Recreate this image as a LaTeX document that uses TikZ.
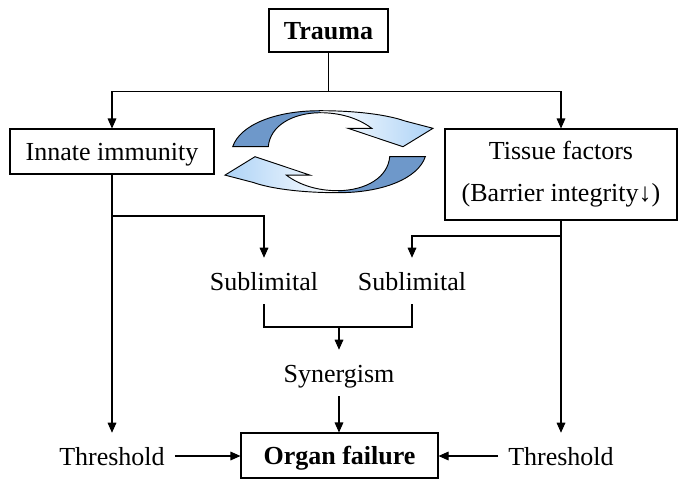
\documentclass[tikz,border=0pt]{standalone}
\usepackage{fontspec}
\setmainfont{Liberation Serif}
\usetikzlibrary{arrows.meta}
\definecolor{cdark}{RGB}{110,152,202}
\definecolor{clight}{RGB}{168,208,246}
\newcommand\cycarrow{(232.7,146.7) .. controls (240,125) and (275,110.7) .. (320,110.7) .. controls (358,110.7) and (388,115) .. (405,121) -- (433,128.3) -- (403,146.7) -- (348,128.3) -- (371.7,128.3) .. controls (358,118) and (340,112.7) .. (320,112.7) .. controls (292,113) and (270,126) .. (268.3,146.7) -- cycle}
\begin{document}
\begin{tikzpicture}[x=0.75pt,y=-0.75pt,
  font=\fontsize{19.5pt}{31.5pt}\selectfont,
  box/.style={draw,line width=0.8pt,inner sep=0pt,align=center},
  onebox/.style={box,text height=13.5pt,text depth=0pt},
  lbl/.style={inner xsep=7.5pt,inner ysep=10.5pt,text height=13.5pt,text depth=0pt,anchor=base},
  arr/.style={line width=0.8pt,-{Triangle[length=7.5pt,width=6.5pt]}},
  ln/.style={line width=0.8pt},
  outl/.style={draw=black,line width=0.7pt}]
\useasboundingbox (0,0) rectangle (685,490);
% boxes
\node[onebox,minimum width=89.25pt,minimum height=32.25pt] (trauma) at (328.5,30.5) {\textbf{Trauma}};
\node[onebox,minimum width=153pt,minimum height=33.75pt] (innate) at (112,151.5) {Innate immunity};
\node[box,minimum width=174pt,minimum height=68.25pt] (tissue) at (561,174.5) {Tissue factors\\(Barrier integrity↓)};
\node[onebox,minimum width=147.75pt,minimum height=33.75pt] (organ) at (339.5,455.5) {\textbf{Organ failure}};
% labels
\node[lbl] (subL) at (264,290) {Sublimital};
\node[lbl] (subR) at (412,290) {Sublimital};
\node[lbl] (syn) at (339,382) {Synergism};
\node[lbl] (thL) at (112,465) {Threshold};
\node[lbl] (thR) at (561,465) {Threshold};
% junctions
\coordinate (split) at (328.5,91.5);
\coordinate (bl) at (112,216);
\coordinate (br) at (561,236);
\coordinate (mj) at (339,327);
% connectors
\draw[ln] (trauma.south) -- (split);
\draw[arr] (split) -| (innate.north);
\draw[arr] (split) -| (tissue.north);
\draw[arr] (innate.south) -- (thL.north);
\draw[arr] (tissue.south) -- (thR.north);
\draw[arr] (bl) -| (subL.north);
\draw[arr] (br) -| (subR.north);
\draw[ln] (subL.south) |- (mj) -| (subR.south);
\draw[arr] (mj) -- (syn.north);
\draw[arr] (syn.south) -- (syn.south |- organ.north);
\draw[arr] (thL.east) -- (thL.east -| organ.west);
\draw[arr] (thR.west) -- (thR.west -| organ.east);
% cycle arrows
\begin{scope}
  \clip \cycarrow;
  \fill[cdark] (220,100) rectangle (320,150);
  \shade[left color=white,right color=clight] (320,100) rectangle (440,150);
\end{scope}
\draw[outl] \cycarrow;
\begin{scope}
  \clip[rotate around={180:(329,151.7)}] \cycarrow;
  \fill[cdark] (338,150) rectangle (440,205);
  \shade[left color=clight,right color=white] (218,150) rectangle (338,205);
\end{scope}
\draw[outl,rotate around={180:(329,151.7)}] \cycarrow;
\end{tikzpicture}
\end{document}
